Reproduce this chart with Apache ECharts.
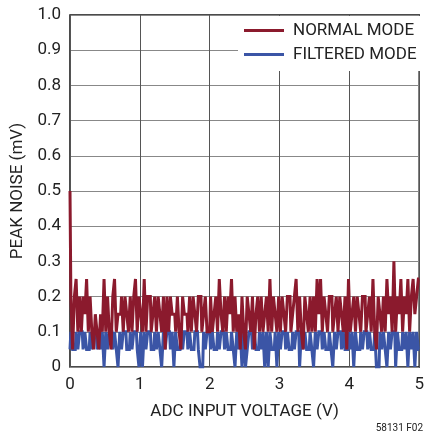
<!DOCTYPE html>
<html>
<head>
<meta charset="utf-8">
<style>
  html, body { margin: 0; padding: 0; background: #fff; }
  #chart { width: 427px; height: 434px; }
</style>
<script src="https://cdn.jsdelivr.net/npm/echarts@6/dist/echarts.min.js"></script>
</head>
<body>
<div id="chart"></div>
<script>
// sample spacing along the ADC input voltage axis (V)
const STEP = 0.025;

const seriesNames = ["NORMAL MODE", "FILTERED MODE"];

// peak noise, normal mode (mV)
const normalMode = [
    0.5, 0.2, 0.05, 0.2, 0.25, 0.1, 0.2, 0.1, 0.2, 0.15, 0.25, 0.1, 0.2, 0.1, 0.05, 0.15, 0.1, 0.05, 0.15, 0.1,
    0.25, 0.1, 0.2, 0.1, 0.05, 0.2, 0.25, 0.1, 0.15, 0.15, 0.2, 0.1, 0.2, 0.15, 0.1, 0.2, 0.1, 0.2, 0.25, 0.1,
    0.2, 0.15, 0.1, 0.25, 0.1, 0.2, 0.2, 0.1, 0.15, 0.2, 0.1, 0.2, 0.15, 0.1, 0.2, 0.05, 0.2, 0.1, 0.2, 0.15,
    0.15, 0.1, 0.2, 0.1, 0.05, 0.2, 0.15, 0.15, 0.1, 0.2, 0.1, 0.2, 0.15, 0.1, 0.2, 0.2, 0.1, 0.15, 0.2, 0.1,
    0.1, 0.2, 0.1, 0.15, 0.2, 0.1, 0.25, 0.15, 0.1, 0.2, 0.1, 0.2, 0.15, 0.25, 0.1, 0.2, 0.1, 0.15, 0.05, 0.2,
    0.1, 0.05, 0.2, 0.15, 0.1, 0.2, 0.05, 0.15, 0.2, 0.1, 0.2, 0.1, 0.15, 0.2, 0.1, 0.25, 0.1, 0.2, 0.15, 0.1,
    0.2, 0.1, 0.2, 0.15, 0.1, 0.2, 0.2, 0.1, 0.15, 0.2, 0.25, 0.1, 0.2, 0.1, 0.05, 0.2, 0.15, 0.1, 0.2, 0.1,
    0.2, 0.1, 0.25, 0.15, 0.25, 0.1, 0.2, 0.15, 0.1, 0.2, 0.2, 0.1, 0.15, 0.2, 0.1, 0.2, 0.15, 0.1, 0.2, 0.05,
    0.25, 0.1, 0.15, 0.2, 0.1, 0.2, 0.15, 0.1, 0.2, 0.2, 0.1, 0.15, 0.2, 0.1, 0.25, 0.1, 0.05, 0.2, 0.15, 0.1,
    0.2, 0.1, 0.25, 0.15, 0.2, 0.1, 0.3, 0.1, 0.2, 0.15, 0.25, 0.1, 0.2, 0.15, 0.25, 0.1, 0.2, 0.25, 0.15, 0.2, 0.25
];

// peak noise, filtered mode (mV)
const filteredMode = [
    0.05, 0.1, 0.05, 0.05, 0.1, 0.05, 0.1, 0.1, 0.05, 0.1, 0.05, 0.05, 0.1, 0.05, 0.1, 0.1, 0.05, 0.1, 0.05, 0.1,
    0, 0.1, 0.05, 0.1, 0.1, 0.05, 0.1, 0.05, 0, 0.1, 0.05, 0.1, 0.1, 0.05, 0.05, 0.1, 0.05, 0.1, 0.1, 0.05,
    0, 0.1, 0, 0.1, 0.05, 0.1, 0.1, 0.05, 0.05, 0.1, 0.05, 0.1, 0.05, 0, 0.1, 0.05, 0.1, 0.1, 0.05, 0.1,
    0, 0.1, 0.05, 0.05, 0.1, 0.05, 0.1, 0.1, 0.05, 0.1, 0.05, 0.05, 0.1, 0.1, 0.05, 0, 0, 0.1, 0.05, 0.1,
    0.1, 0.05, 0.1, 0.05, 0.05, 0.1, 0.05, 0.1, 0.1, 0.05, 0.1, 0.05, 0.05, 0.1, 0.05, 0, 0.1, 0.05, 0.1, 0,
    0.1, 0, 0.05, 0.1, 0.1, 0.05, 0.1, 0.05, 0.05, 0.1, 0.05, 0.1, 0, 0.1, 0, 0.1, 0.05, 0.05, 0.1, 0,
    0.1, 0.05, 0.1, 0.1, 0.05, 0.1, 0.05, 0.05, 0.1, 0.05, 0.1, 0.1, 0, 0.1, 0.05, 0.1, 0.05, 0.05, 0.1, 0.05,
    0, 0.1, 0.05, 0.1, 0.1, 0.05, 0.1, 0.05, 0.05, 0.1, 0.05, 0, 0.1, 0.05, 0.1, 0.1, 0.05, 0.1, 0.05, 0.05,
    0.1, 0.05, 0.1, 0, 0.1, 0.05, 0.05, 0.1, 0.05, 0.1, 0.1, 0.05, 0.1, 0.05, 0.05, 0.1, 0, 0, 0.1, 0.05,
    0.1, 0.05, 0, 0.1, 0.05, 0.1, 0.1, 0, 0.1, 0.05, 0.05, 0.1, 0.05, 0.1, 0, 0.1, 0.05, 0.1, 0, 0.1, 0.05
];

const RED = "#8b1a2d";
const BLUE = "#3b55a6";
const FONT = "'Liberation Sans Narrow', 'Roboto', 'Liberation Sans', sans-serif";

function toPairs(values) {
    return values.map((v, i) => [+(i * STEP).toFixed(3), v]);
}

const chart = echarts.init(document.getElementById("chart"), null, { renderer: "canvas" });

const option = {
    animation: false,
    backgroundColor: "#fff",
    textStyle: { fontFamily: FONT },
    grid: {
        left: 70, right: 4, top: 15, bottom: 67,
        show: true, borderColor: "#111", borderWidth: 1.5, backgroundColor: "transparent"
    },
    legend: {
        data: seriesNames,
        orient: "vertical",
        left: 238, top: 16,
        padding: [6, 6, 8, 6],
        backgroundColor: "#fff",
        itemWidth: 40, itemHeight: 3, itemGap: 7,
        icon: "rect",
        textStyle: { fontFamily: FONT, fontSize: 17, color: "#222", padding: [0, 0, 0, 4] }
    },
    xAxis: {
        type: "value",
        min: 0, max: 5, interval: 1,
        name: "ADC INPUT VOLTAGE (V)",
        nameLocation: "middle",
        nameGap: 36,
        nameTextStyle: { fontFamily: FONT, fontSize: 17, color: "#222" },
        axisLine: { show: false },
        axisTick: { show: false },
        axisLabel: { fontFamily: FONT, fontSize: 17, color: "#222", margin: 9 },
        splitLine: { show: true, lineStyle: { color: "#555", width: 1 } }
    },
    yAxis: {
        type: "value",
        min: 0, max: 1, interval: 0.1,
        name: "PEAK NOISE (mV)",
        nameLocation: "middle",
        nameGap: 43,
        nameTextStyle: { fontFamily: FONT, fontSize: 17, color: "#222" },
        axisLine: { show: false },
        axisTick: { show: false },
        axisLabel: {
            fontFamily: FONT, fontSize: 17, color: "#222", margin: 9,
            formatter: (v) => (v === 0 ? "0" : v.toFixed(1))
        },
        splitLine: { show: true, lineStyle: { color: "#888", width: 1 } }
    },
    graphic: [{
        type: "text",
        right: 4, bottom: 1,
        style: { text: "58131 F02", fontFamily: FONT, fontSize: 10, fill: "#222" }
    }],
    series: [
        {
            name: seriesNames[1],
            type: "line",
            step: "middle",
            data: toPairs(filteredMode),
            showSymbol: false,
            z: 2,
            color: BLUE,
            lineStyle: { color: BLUE, width: 3, join: "miter" }
        },
        {
            name: seriesNames[0],
            type: "line",
            step: "middle",
            data: toPairs(normalMode),
            showSymbol: false,
            z: 3,
            color: RED,
            lineStyle: { color: RED, width: 3, join: "miter" }
        }
    ]
};

chart.setOption(option);
</script>
</body>
</html>
